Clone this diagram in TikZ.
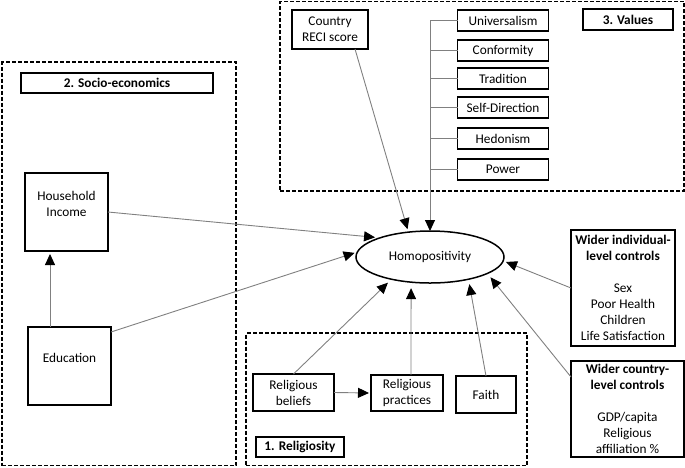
\documentclass[tikz,border=0pt]{standalone}
\usepackage{fontspec}
\setmainfont{Carlito}
\usetikzlibrary{arrows.meta,calc,shapes.geometric}
\definecolor{linkgray}{RGB}{128,128,128}
\begin{document}
\begin{tikzpicture}[x=1pt,y=-1pt,
  every node/.style={font=\fontsize{13.3}{16}\selectfont, inner sep=0pt, outer sep=0pt},
  box/.style={draw=black, line width=1.2pt, align=center},
  txt/.style={align=center},
  tagbox/.style={draw=black, line width=2pt, font=\fontsize{13.3}{16}\selectfont\bfseries},
  group/.style={draw=black, line width=1.8pt, dash pattern=on 4pt off 2pt},
  link/.style={draw=linkgray, line width=0.9pt},
  arr/.style={link, -{Triangle[length=11pt,width=10pt,color=black]}},
  valbox/.style={box, minimum width=91pt, minimum height=21pt},
]
\useasboundingbox (0,0) rectangle (685,467);

% group frames
\node[group, minimum width=234pt, minimum height=403.5pt] (g2) at (119,263.75) {};
\node[group, minimum width=404pt, minimum height=189.5pt] (g3) at (482,96.25) {};
\node[group, minimum width=281pt, minimum height=132.5pt] (g1) at (386.5,399.25) {};

% group tags
\node[tagbox, minimum width=192pt, minimum height=20pt] (tag2) at (117,83) {2. Socio-economics};
\node[tagbox, minimum width=90pt, minimum height=21pt] (tag3) at (628,19.5) {3. Values};
\node[tagbox, minimum width=88pt, minimum height=20pt] (tag1) at (300,447) {1. Religiosity};

% socio-economics
\node[box, minimum width=83pt, minimum height=78pt] (hh) at (66.5,212) {};
\node[txt] (hhtext) at (66.5,204) {Household\\Income};
\node[box, minimum width=83pt, minimum height=78pt] (edu) at (69.5,366) {};
\node[txt] (edutext) at (69.5,358) {Education};

% values
\node[box, minimum width=76pt, minimum height=39pt] (reci) at (330,29.5) {Country\\RECI score};
\node[valbox] (univ) at (503,20.5) {Universalism};
\node[valbox] (conf) at (503,50.5) {Conformity};
\node[valbox] (trad) at (503,78.5) {Tradition};
\node[valbox] (selfd) at (503,107.5) {Self-Direction};
\node[valbox] (hedo) at (503,138.5) {Hedonism};
\node[valbox] (power) at (503,169.5) {Power};

% outcome
\node[draw=black, line width=1.5pt, ellipse, minimum width=148pt, minimum height=52pt] (homo) at (430,257) {Homopositivity};

% religiosity
\node[box, minimum width=81pt, minimum height=37pt] (bel) at (293.5,392.5) {Religious\\beliefs};
\node[box, minimum width=72pt, minimum height=36pt] (prac) at (407,393) {Religious\\practices};
\node[box, minimum width=60pt, minimum height=37pt] (faith) at (486,394.5) {Faith};

% controls
\node[box, minimum width=104pt, minimum height=116pt] (ind) at (623,288)
  {\textbf{Wider individual-}\\\textbf{level controls}\\[16pt]Sex\\Poor Health\\Children\\Life Satisfaction};
\node[box, minimum width=113pt, minimum height=96pt] (ctry) at (627.5,409)
  {\textbf{Wider country-}\\\textbf{level controls}\\[16pt]GDP/capita\\Religious\\affiliation \%};

% connectors
\draw[arr, shorten >=5pt] (hh.east) -- (homo.159);
\draw[arr, shorten >=3pt] ($(edu.north east)+(0,5)$) -- (homo.176);
\coordinate (eduup) at ($(edu.north west)+(22,0)$);
\draw[arr, shorten >=3pt] (eduup) -- (eduup |- hh.south);

\coordinate (reciout) at ($(reci.south east)+(-13,0)$);
\draw[arr, shorten >=3pt] (reciout) -- (homo.131);
\coordinate (bartop) at (homo.north |- univ.west);
\draw[arr] (bartop) -- (homo.north);
\foreach \v in {univ,conf,trad,selfd,hedo,power}
  \draw[link] (\v.west) -- (\v.west -| homo.north);

\draw[arr, shorten >=5pt] (bel.north) -- (homo.210);
\coordinate (pracout) at ($(prac.north)+(4,0)$);
\draw[arr, shorten >=6pt] (pracout) -- (homo.233);
\draw[arr, shorten >=5pt] (faith.north) -- (homo.330);
\draw[arr, shorten >=2pt] (bel.east) -- (prac.west);

\draw[arr, shorten >=3pt] (ind.west) -- (homo.357);
\draw[arr, shorten >=5pt] ($(ctry.north west)+(0,16)$) -- (homo.344);
\end{tikzpicture}
\end{document}
